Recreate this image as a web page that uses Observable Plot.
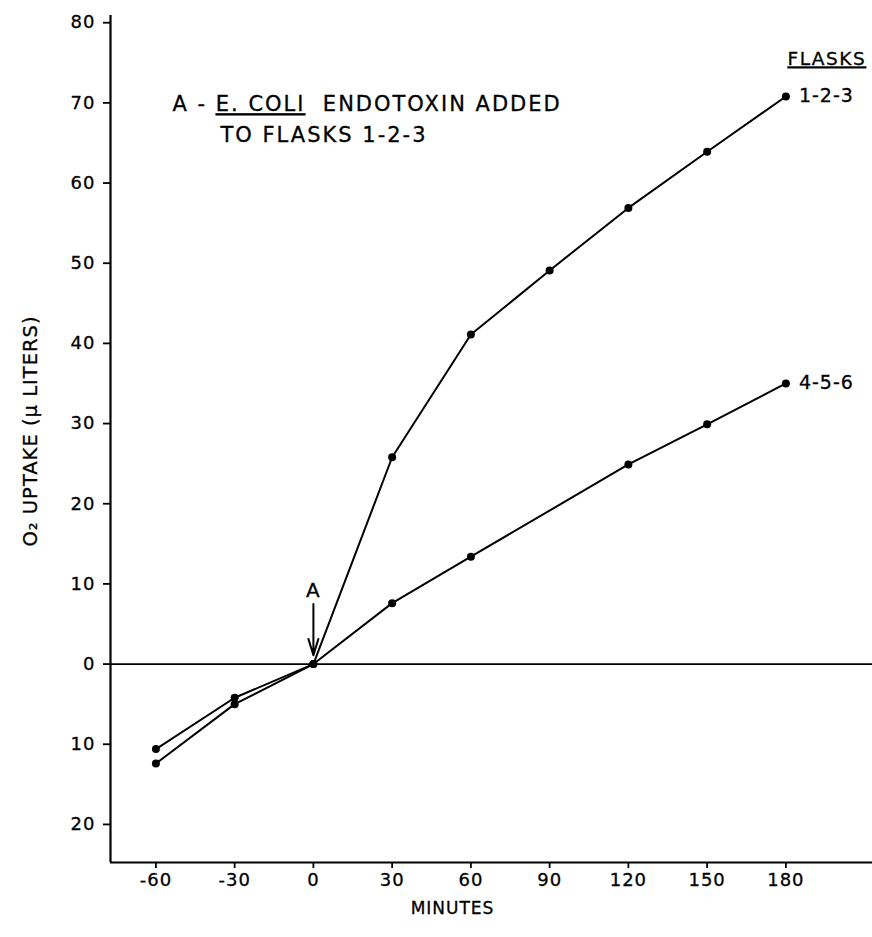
<!DOCTYPE html>
<html>
<head>
<meta charset="utf-8">
<script src="https://cdn.jsdelivr.net/npm/d3@7"></script>
<script src="https://cdn.jsdelivr.net/npm/@observablehq/plot@0.6"></script>
<style>
  html, body { margin: 0; padding: 0; background: #fff; }
  svg text { letter-spacing: 1px; white-space: pre; stroke: #000; stroke-width: 0.3px; }
</style>
</head>
<body>
<div id="chart"></div>
<script>
// ---- data ----
const minutes123 = [-60, -30, 0, 30, 60, 90, 120, 150, 180];
const uptake123  = [-12.4, -5.0, 0, 25.8, 41.1, 49.1, 56.9, 63.9, 70.8];
const minutes456 = [-60, -30, 0, 30, 60, 120, 150, 180];
const uptake456  = [-10.6, -4.2, 0, 7.6, 13.4, 24.9, 29.9, 35.0];
const seriesNames = ["1-2-3", "4-5-6"];
const xTicks = [-60, -30, 0, 30, 60, 90, 120, 150, 180];
const yTicks = [-20, -10, 0, 10, 20, 30, 40, 50, 60, 70, 80];
const eventMinute = [0];
const eventLabel = ["A"];
const noteLine1 = "A - E. COLI  ENDOTOXIN ADDED";
const noteLine2 = "TO FLASKS 1-2-3";
const legendTitle = "FLASKS";
const xLabel = "MINUTES";
const yLabel = "O\u2082 UPTAKE (\u03BC LITERS)";

const rows = [
  ...minutes123.map((m, i) => ({series: seriesNames[0], minute: m, uptake: uptake123[i]})),
  ...minutes456.map((m, i) => ({series: seriesNames[1], minute: m, uptake: uptake456[i]}))
];
const lastPoints = seriesNames.map(s => rows.filter(r => r.series === s).at(-1));

const xDomain = [-77.3, 213];
const yDomain = [-24.75, 80.9];
const font = "DejaVu Sans";

const chart = Plot.plot({
  width: 872,
  height: 937,
  marginLeft: 110,
  marginRight: 0,
  marginTop: 15,
  marginBottom: 75,
  x: {domain: xDomain, label: null},
  y: {domain: yDomain, label: null},
  style: {fontFamily: font, fontSize: "18px", color: "black", background: "white", overflow: "visible"},
  marks: [
    // axes
    Plot.ruleX([xDomain[0]], {stroke: "black", strokeWidth: 2.2}),
    Plot.ruleY([yDomain[0]], {stroke: "black", strokeWidth: 2.2}),
    Plot.axisY(yTicks, {tickSize: 7, tickPadding: 8, strokeWidth: 1.8, fontSize: 18, tickFormat: d => String(Math.abs(d)), label: null}),
    Plot.axisX(xTicks, {tickSize: 6, tickPadding: 5, strokeWidth: 1.8, fontSize: 18, tickFormat: d => String(d), label: null}),
    // zero line
    Plot.ruleY([0], {stroke: "black", strokeWidth: 1.6}),
    // data
    Plot.line(rows, {x: "minute", y: "uptake", z: "series", stroke: "black", strokeWidth: 2}),
    Plot.dot(rows, {x: "minute", y: "uptake", r: 4, fill: "black", stroke: "none"}),
    Plot.text(lastPoints, {x: "minute", y: "uptake", text: "series", textAnchor: "start", lineAnchor: "middle", dx: 13, dy: -1, fontSize: 19}),
    // event arrow "A"
    Plot.arrow(eventMinute, {x1: d => d, x2: d => d, y1: () => 7.5, y2: () => 1.1, stroke: "black", strokeWidth: 2, headLength: 16, headAngle: 34}),
    Plot.text(eventMinute, {x: d => d, y: () => 9.2, text: (d, i) => eventLabel[i], fontSize: 20}),
    // note
    Plot.text([noteLine1], {frameAnchor: "top-left", dx: 62, dy: 89, textAnchor: "start", lineAnchor: "middle", fontSize: 21}),
    Plot.text([noteLine2], {frameAnchor: "top-left", dx: 110, dy: 120, textAnchor: "start", lineAnchor: "middle", fontSize: 21}),
    // legend title
    Plot.text([legendTitle], {frameAnchor: "top-left", dx: 677, dy: 44, textAnchor: "start", lineAnchor: "middle", fontSize: 18.5}),
    // axis labels
    Plot.text([xLabel], {frameAnchor: "bottom-left", dx: 342, dy: 46, textAnchor: "middle", lineAnchor: "middle", fontSize: 17}),
    Plot.text([yLabel], {frameAnchor: "left", dx: -80, dy: -8, rotate: -90, textAnchor: "middle", lineAnchor: "middle", fontSize: 19.5})
  ]
});

document.getElementById("chart").appendChild(chart);

// underline and spacing touches
const sel = d3.select(chart).selectAll("text");
sel.filter(function() { return this.textContent === noteLine1; }).each(function() {
  const t = d3.select(this);
  t.text(null).style("letter-spacing", "2px");
  t.append("tspan").text("A - ");
  t.append("tspan").text("E. COLI").style("text-decoration", "underline").style("text-underline-offset", "4px");
  t.append("tspan").text("  ENDOTOXIN ADDED");
});
sel.filter(function() { return this.textContent === noteLine2; }).style("letter-spacing", "2px");
sel.filter(function() { return this.textContent === legendTitle; })
  .style("text-decoration", "underline").style("text-underline-offset", "5px").style("letter-spacing", "1.5px");
</script>
</body>
</html>
